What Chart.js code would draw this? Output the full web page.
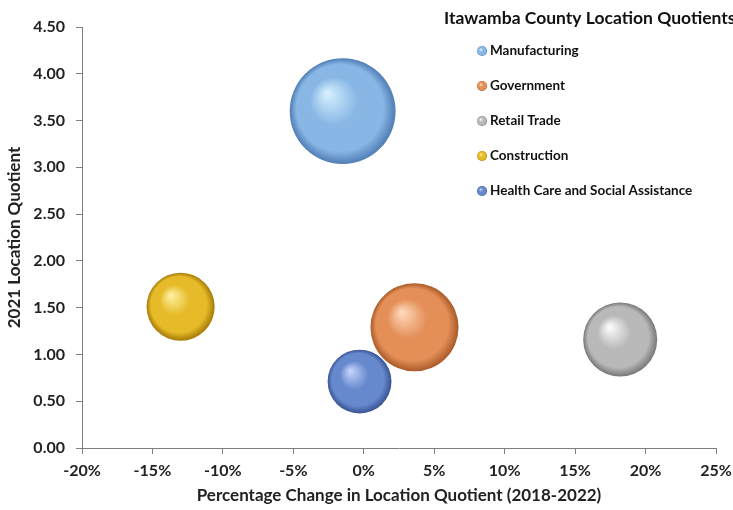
<!DOCTYPE html>
<html>
<head>
<meta charset="utf-8">
<script src="https://cdn.jsdelivr.net/npm/chart.js@4.4.1/dist/chart.umd.min.js"></script>
<style>
    html, body { margin: 0; padding: 0; background: #fff; }
    #wrap { width: 733px; height: 510px; }
</style>
</head>
<body>
<div id="wrap"><canvas id="chart" width="733" height="510"></canvas></div>
<script>
// data
const industries = ['Manufacturing', 'Government', 'Retail Trade', 'Construction', 'Health Care and Social Assistance'];
const pctChange = [-1.5, 3.6, 18.2, -13.0, -0.3];     // % change in LQ 2018-2022
const quotient = [3.60, 1.29, 1.16, 1.51, 0.71];      // 2021 location quotient
const bubbleSize = [2800, 1940, 1370, 1160, 1020];    // bubble size value (area)
const xTicks = [-20, -15, -10, -5, 0, 5, 10, 15, 20, 25];
const yTicks = [0, 0.5, 1, 1.5, 2, 2.5, 3, 3.5, 4, 4.5];

// highlight, body, rim
const shades = [
    ['#d8f2ff', '#89b7e5', '#4f7db5'],
    ['#ffdcbf', '#e58f58', '#a95a28'],
    ['#ffffff', '#b9b9b9', '#777777'],
    ['#fff3a6', '#e6ba28', '#a47a06'],
    ['#c8d8ff', '#6688cc', '#375393']
];
const FONT = 'Lato';

function sphere(ctx, cx, cy, r, s) {
    const g = ctx.createRadialGradient(cx - 0.3 * r, cy - 0.35 * r, 0, cx, cy, r);
    g.addColorStop(0, s[0]);
    g.addColorStop(0.45, s[1]);
    g.addColorStop(0.82, s[1]);
    g.addColorStop(1, s[2]);
    return g;
}

const legendPlugin = {
    id: 'sideLegend',
    afterDraw(chart) {
        const ctx = chart.ctx;
        ctx.save();
        ctx.fillStyle = '#111';
        ctx.textBaseline = 'middle';
        ctx.font = 'bold 17.5px ' + FONT;
        ctx.fillText('Itawamba County Location Quotients', 444, 18);
        ctx.font = 'bold 13.5px ' + FONT;
        industries.forEach((name, i) => {
            const y = 51 + i * 35;
            ctx.beginPath();
            ctx.arc(482, y, 5, 0, Math.PI * 2);
            ctx.fillStyle = sphere(ctx, 482, y, 5, shades[i]);
            ctx.fill();
            ctx.fillStyle = '#111';
            ctx.fillText(name, 490, y);
        });
        ctx.restore();
    }
};

const datasets = industries.map((name, i) => ({
    label: name,
    data: [{ x: pctChange[i], y: quotient[i], r: Math.sqrt(bubbleSize[i]) }],
    borderWidth: 0,
    clip: false,
    backgroundColor: (c) => {
        const chart = c.chart;
        if (!chart.chartArea || !c.raw) return shades[i][1];
        const cx = chart.scales.x.getPixelForValue(c.raw.x);
        const cy = chart.scales.y.getPixelForValue(c.raw.y);
        return sphere(chart.ctx, cx, cy, c.raw.r, shades[i]);
    }
}));

const tickFont = { family: FONT, size: 16, weight: 'bold' };
const titleFont = { family: FONT, size: 17, weight: 'bold' };

new Chart(document.getElementById('chart'), {
    type: 'bubble',
    data: { datasets: datasets },
    options: {
        responsive: false,
        animation: false,
        events: [],
        layout: { autoPadding: false, padding: { top: 27, right: 17, left: 0, bottom: 0 } },
        plugins: { legend: { display: false }, tooltip: { enabled: false } },
        scales: {
            x: {
                type: 'linear',
                min: xTicks[0],
                max: xTicks[xTicks.length - 1],
                afterBuildTicks: (s) => { s.ticks = xTicks.map(v => ({ value: v })); },
                afterFit: (s) => { s.height = 62; s.paddingRight = 0; },
                border: { color: '#7f7f7f', width: 1 },
                grid: { drawOnChartArea: false, drawTicks: true, tickLength: 6, color: '#7f7f7f' },
                ticks: { font: tickFont, color: '#222', padding: 7, maxRotation: 0,
                    callback: (v) => v + '%' },
                title: { display: true, text: 'Percentage Change in Location Quotient (2018-2022)',
                    font: titleFont, color: '#222', padding: { top: 0 } }
            },
            y: {
                type: 'linear',
                min: yTicks[0],
                max: yTicks[yTicks.length - 1],
                afterBuildTicks: (s) => { s.ticks = yTicks.map(v => ({ value: v })); },
                afterFit: (s) => { s.width = 82; },
                border: { color: '#7f7f7f', width: 1 },
                grid: { drawOnChartArea: false, drawTicks: true, tickLength: 6, color: '#7f7f7f' },
                ticks: { font: tickFont, color: '#222', padding: 11,
                    callback: (v) => v.toFixed(2) },
                title: { display: true, text: '2021 Location Quotient',
                    font: titleFont, color: '#222', padding: { bottom: 2 } }
            }
        }
    },
    plugins: [legendPlugin]
});
</script>
</body>
</html>
